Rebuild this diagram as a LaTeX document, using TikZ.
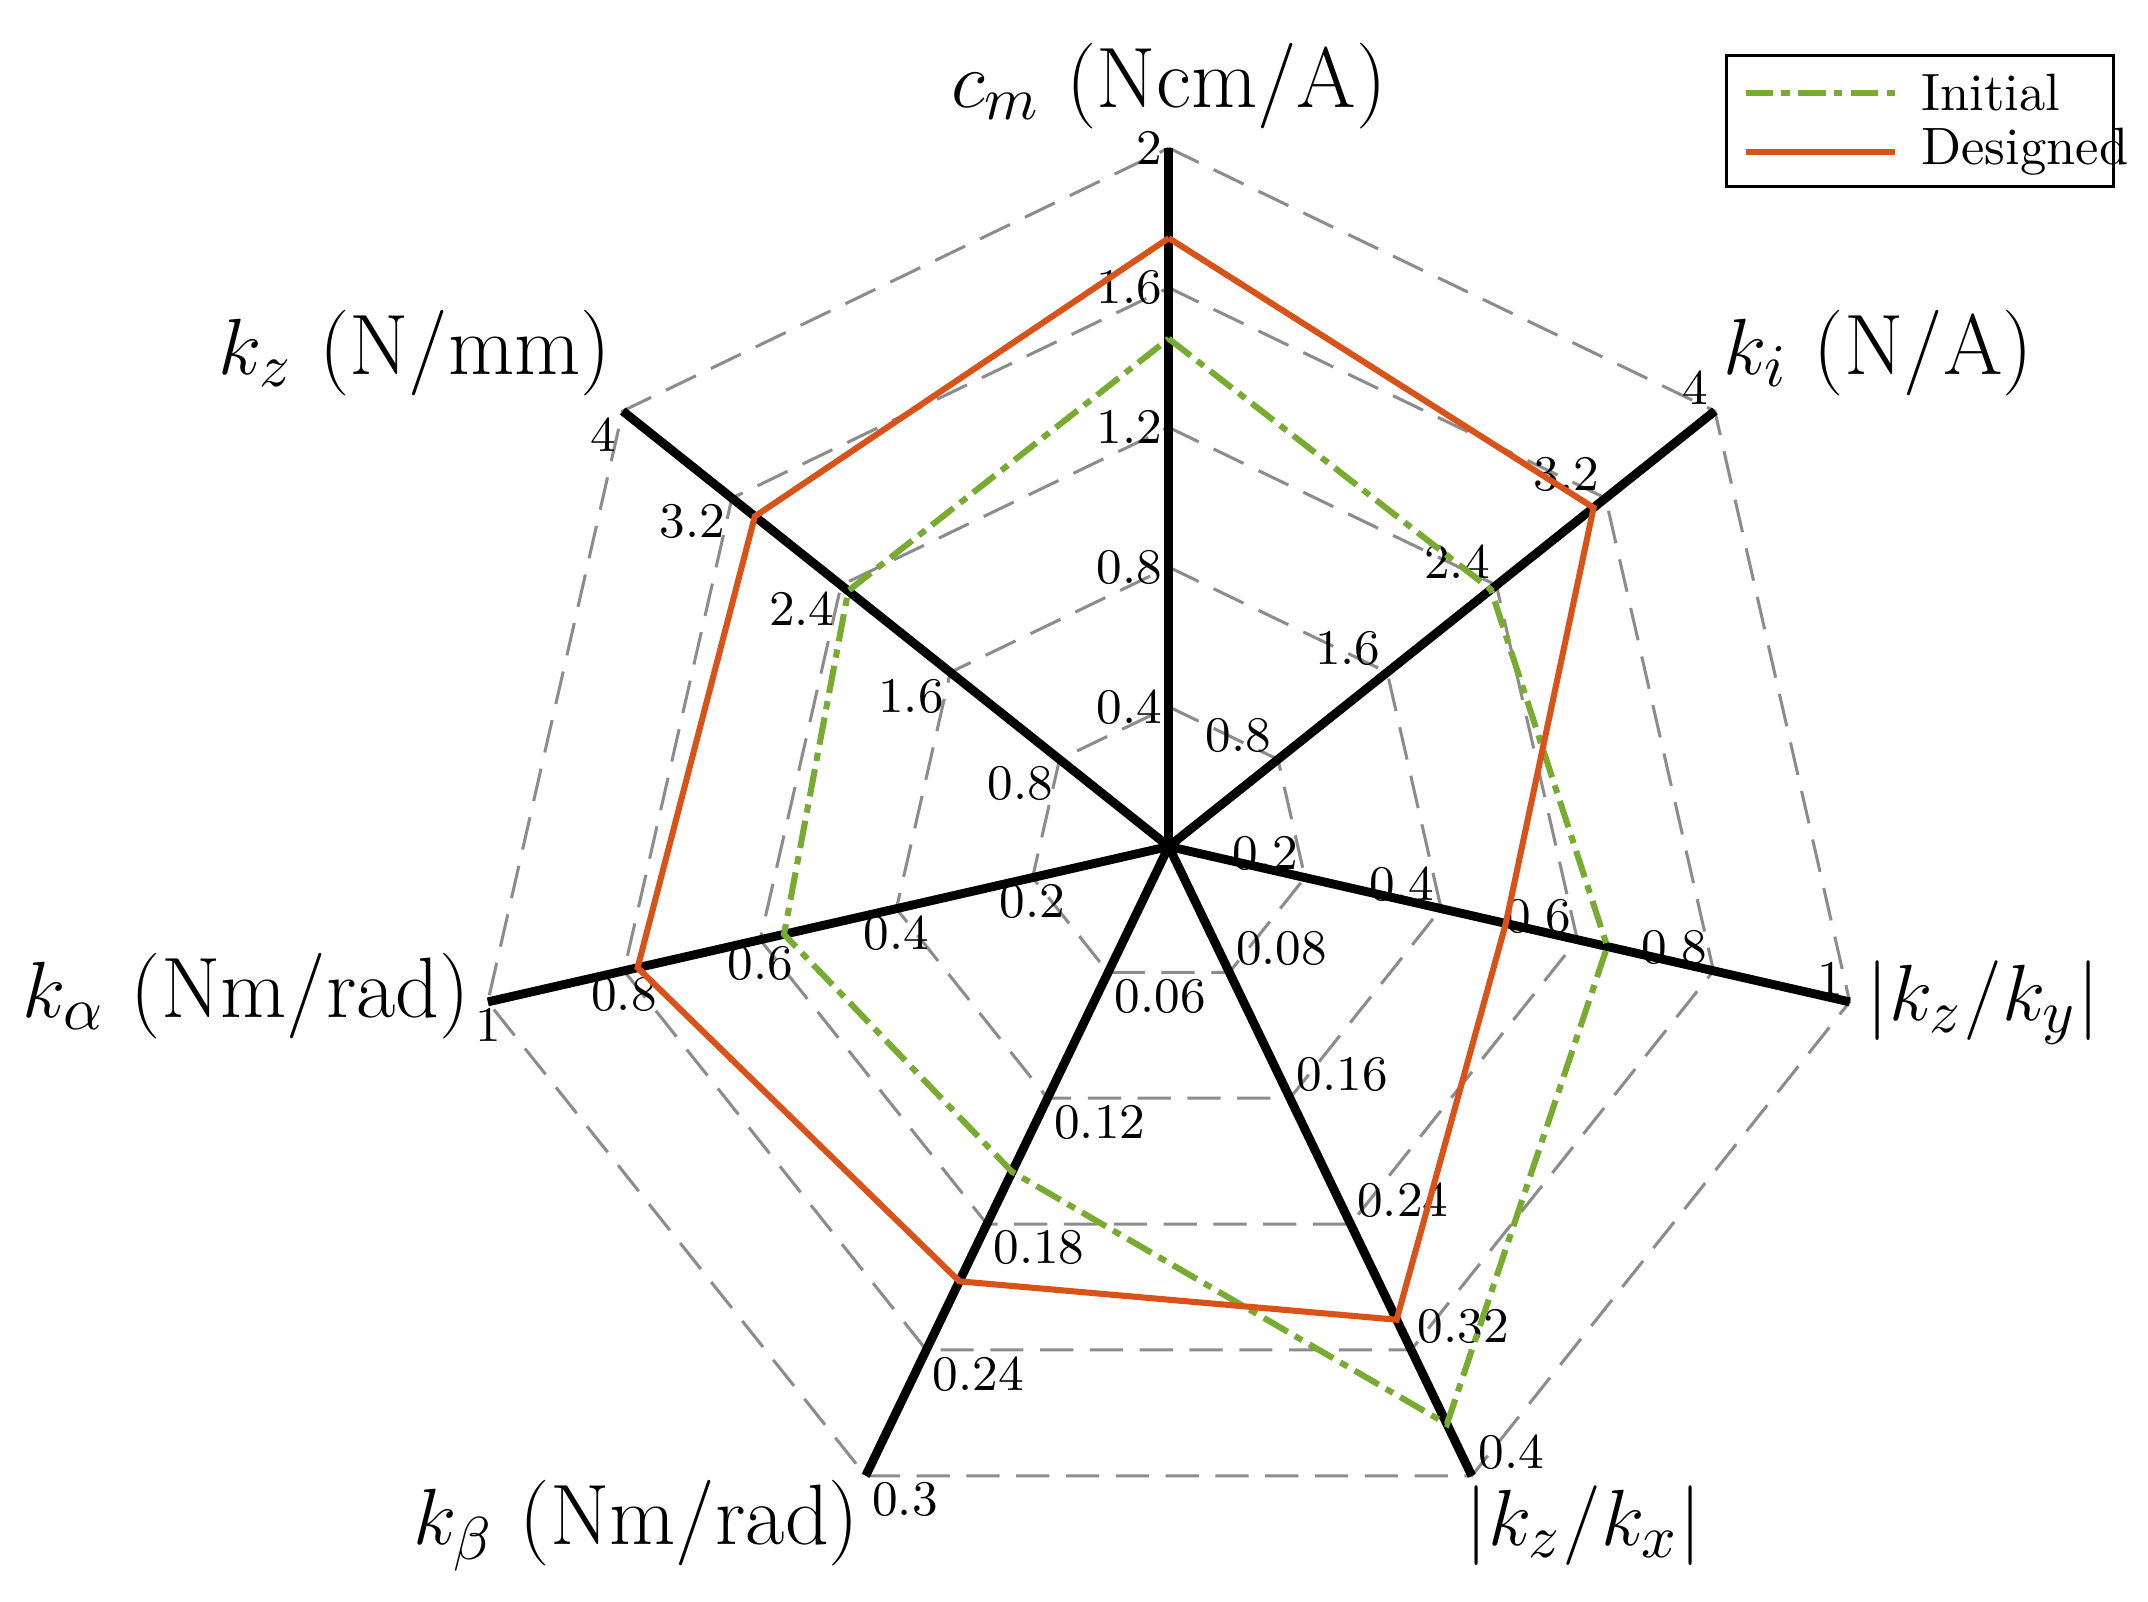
\documentclass[tikz,border=0pt]{standalone}
\begin{document}
\begin{tikzpicture}[x=0.25pt,y=0.25pt,
  grid/.style={gray!90,line width=0.55pt,dash pattern=on 6pt off 3pt},
  axis/.style={black,line width=1.6pt},
  tick/.style={font=\fontsize{9}{10}\selectfont,inner sep=1pt},
  alab/.style={font=\fontsize{15.5}{18}\selectfont,inner sep=1pt},
  ini/.style={color={rgb,255:red,119;green,172;blue,48},line width=1.1pt,dash pattern=on 5pt off 1.5pt on 1.5pt off 1.5pt,
     mark=square,mark size=3.2pt,mark options={solid,line width=1pt}},
  des/.style={color={rgb,255:red,217;green,83;blue,25},line width=1.1pt,
     mark=diamond,mark size=5pt,mark options={solid,line width=1.1pt,scale=1, xscale=0.8,yscale=1.1}}]
\useasboundingbox (0,0) rectangle (1553,-1158);
\begin{scope}[shift={(845,-612)}]
\coordinate (C) at (0,0);
\foreach \f in {0.2,0.4,0.6,0.8,1.0}{
  \draw[grid] (90:505*\f) \foreach \k in {1,...,6}{ -- ({90-\k*360/7}:505*\f)} -- cycle;}
\foreach \k in {0,...,6}{ \draw[axis] (C) -- ({90-\k*360/7}:505) coordinate (T\k);}
\foreach \k/\an/\a/\b/\c/\d/\e in {
  0/east/0.4/0.8/1.2/1.6/2,
  1/south east/0.8/1.6/2.4/3.2/4,
  2/south east/0.2/0.4/0.6/0.8/1,
  3/south west/0.08/0.16/0.24/0.32/0.4,
  4/north west/0.06/0.12/0.18/0.24/0.3,
  5/north/0.2/0.4/0.6/0.8/1,
  6/north east/0.8/1.6/2.4/3.2/4}{
  \node[tick,anchor=\an] at ({90-\k*360/7}:101) {\a};
  \node[tick,anchor=\an] at ({90-\k*360/7}:202) {\b};
  \node[tick,anchor=\an] at ({90-\k*360/7}:303) {\c};
  \node[tick,anchor=\an] at ({90-\k*360/7}:404) {\d};
  \node[tick,anchor=\an] at ({90-\k*360/7}:505) {\e};
}
\draw[ini] plot coordinates {(90:.727*505) ({90-360/7}:.59*505) ({90-2*360/7}:.644*505) ({90-3*360/7}:.918*505) ({90-4*360/7}:.517*505) ({90-5*360/7}:.565*505) ({90-6*360/7}:.587*505) (90:.727*505)};
\draw[des] plot coordinates {(90:.871*505) ({90-360/7}:.778*505) ({90-2*360/7}:.495*505) ({90-3*360/7}:.752*505) ({90-4*360/7}:.691*505) ({90-5*360/7}:.78*505) ({90-6*360/7}:.758*505) (90:.871*505)};
\end{scope}
\node[alab] (l0) at (845,-62) {$c_m$ (Ncm/A)};
\node[alab] (l1) at (1358,-255) {$k_i$ (N/A)};
\node[alab,anchor=west] (l2) at (1345,-725) {$|k_z/k_y|$};
\node[alab] (l3) at (1145,-1103) {$|k_z/k_x|$};
\node[alab] (l4) at (460,-1103) {$k_\beta$ (Nm/rad)};
\node[alab] (l5) at (178,-720) {$k_\alpha$ (Nm/rad)};
\node[alab] (l6) at (300,-255) {$k_z$ (N/mm)};
\draw[line width=0.5pt] (1248,-40) rectangle (1528,-135);
\draw[ini] plot coordinates {(1262,-67) (1316,-67) (1370,-67)};
\draw[ini,mark=none] (1262,-67) -- (1370,-67);
\draw[des,mark=none] (1262,-110) -- (1370,-110);
\draw[ini,only marks] plot coordinates {(1316,-67)};
\draw[des,only marks] plot coordinates {(1316,-110)};
\node[font=\fontsize{9.5}{11}\selectfont,anchor=west] (li) at (1375,-67) {Initial};
\node[font=\fontsize{9.5}{11}\selectfont,anchor=west] (ld) at (1375,-110) {Designed};
\end{tikzpicture}
\end{document}
